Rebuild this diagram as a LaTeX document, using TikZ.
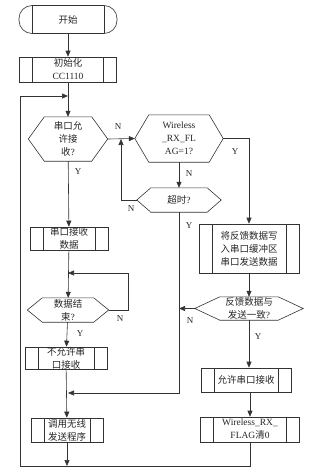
\documentclass[tikz,border=0pt]{standalone}
\usepackage{fontspec}
\setmainfont{Liberation Serif}
\newfontfamily\cjk{Noto Sans CJK SC}
\usetikzlibrary{arrows.meta,calc}
\newcommand\myhex[2]{\draw[ln] (#1.west) -- ($(#1.north west)+(#2,0)$) -- ($(#1.north east)+(-#2,0)$) -- (#1.east) -- ($(#1.south east)+(-#2,0)$) -- ($(#1.south west)+(#2,0)$) -- cycle;}
\begin{document}
\begin{tikzpicture}[x=1pt,y=-1pt,
  ln/.style={line width=0.6pt,draw=black!80},
  arr/.style={ln,-{Triangle[length=6pt,width=5pt]}},
  txt/.style={font=\fontsize{9.5}{13}\selectfont,align=center,inner sep=0pt,text=black!85},
  lbl/.style={font=\fontsize{9}{10}\selectfont,inner sep=0pt,text=black!85},
  proc/.style={txt,ln,draw,minimum width=#1,
    path picture={\draw[ln] ([xshift=13pt]path picture bounding box.north west) -- ([xshift=13pt]path picture bounding box.south west);
                  \draw[ln] ([xshift=-13pt]path picture bounding box.north east) -- ([xshift=-13pt]path picture bounding box.south east);}},
  dec/.style={txt,minimum width=#1}]
\useasboundingbox (0,0) rectangle (313,474);

% left column
\node[proc=98pt,minimum height=28pt,rounded corners=13pt] (start) at (68,19.5) {\cjk 开始};
\node[proc=97pt,minimum height=25pt] (init) at (68,69.5) {\cjk 初始化\\CC1110};
\node[dec=79pt,minimum height=44pt] (d1) at (68,139) {{\cjk 串口允}\\{\cjk 许接}\\{\cjk 收}?};
\myhex{d1}{16}
\node[proc=78pt,minimum height=23pt] (rx) at (69,238.5) {\cjk 串口接收\\\cjk 数据};
\node[dec=81pt,minimum height=24pt] (d2) at (68,310) {{\cjk 数据结}\\{\cjk 束}?};
\myhex{d2}{15}
\node[proc=82pt,minimum height=22pt] (no) at (66,358) {\cjk 不允许串\\\cjk 口接收};
\node[proc=72pt,minimum height=24pt] (call) at (67,430) {\cjk 调用无线\\\cjk 发送程序};

% middle column
\node[dec=88pt,minimum height=47pt] (wl) at (179,138.5) {Wireless\\\_RX\_FL\\AG=1?};
\myhex{wl}{14}
\node[dec=84pt,minimum height=24pt] (to) at (179,200) {{\cjk 超时}?};
\myhex{to}{14}

% right column
\node[proc=100pt,minimum height=49pt] (fb) at (249,248.5) {\cjk 将反馈数据写\\\cjk 入串口缓冲区\\\cjk 串口发送数据};
\node[dec=108pt,minimum height=23pt] (d3) at (249,308.5) {{\cjk 反馈数据与}\\{\cjk 发送一致}?};
\myhex{d3}{25}
\node[proc=90pt,minimum height=24pt] (allow) at (246,380) {\cjk 允许串口接收};
\node[proc=99pt,minimum height=25pt] (clr) at (250,429.5) {Wireless\_RX\_\\FLAG{\cjk 清}0};

% junction coordinates
\coordinate (j1) at (68,96);
\coordinate (lft) at (20,466);
\coordinate (j2) at (121,139);
\coordinate (j3) at (68,393);
\coordinate (j4) at (68,273);

% connectors
\draw[arr] (start) -- (init);
\draw[arr] (init) -- (d1);
\draw[arr] (d1) -- (rx);
\draw[arr] (rx) -- (d2);
\draw[arr] (d2) -- (no);
\draw[arr] (no) -- (call);
\draw[arr] (call.south) -- (call.south |- lft);
\draw[arr] (clr.south) |- (lft) |- (j1);
\draw[arr] (d2.east) -- ++(20,0) |- (j4);
\draw[arr] (d1.east) -- (wl.west);
\draw[arr] (wl.south) -- (to.north);
\draw[arr] (to.west) -| (j2);
\draw[arr] (to.south) |- (j3);
\draw[arr] (wl.east) -| (fb.north);
\draw[arr] (fb.south) -- (d3.north);
\draw[arr] (d3.west) -- (d3.west -| to.south);
\draw[arr] (d3.south) -- (d3.south |- allow.north);
\draw[arr] (allow.south -| clr.south) -- (clr.north);

% labels
\node[lbl] (l1) at (118,127) {N};
\node[lbl] (l2) at (78,172) {Y};
\node[lbl] (l3) at (189,174) {N};
\node[lbl] (l4) at (131,209) {N};
\node[lbl] (l5) at (235,152) {Y};
\node[lbl] (l6) at (189,226) {Y};
\node[lbl] (l7) at (120,319) {N};
\node[lbl] (l8) at (80,334) {Y};
\node[lbl] (l9) at (190,321) {N};
\node[lbl] (l10) at (258,337) {Y};
\end{tikzpicture}
\end{document}
